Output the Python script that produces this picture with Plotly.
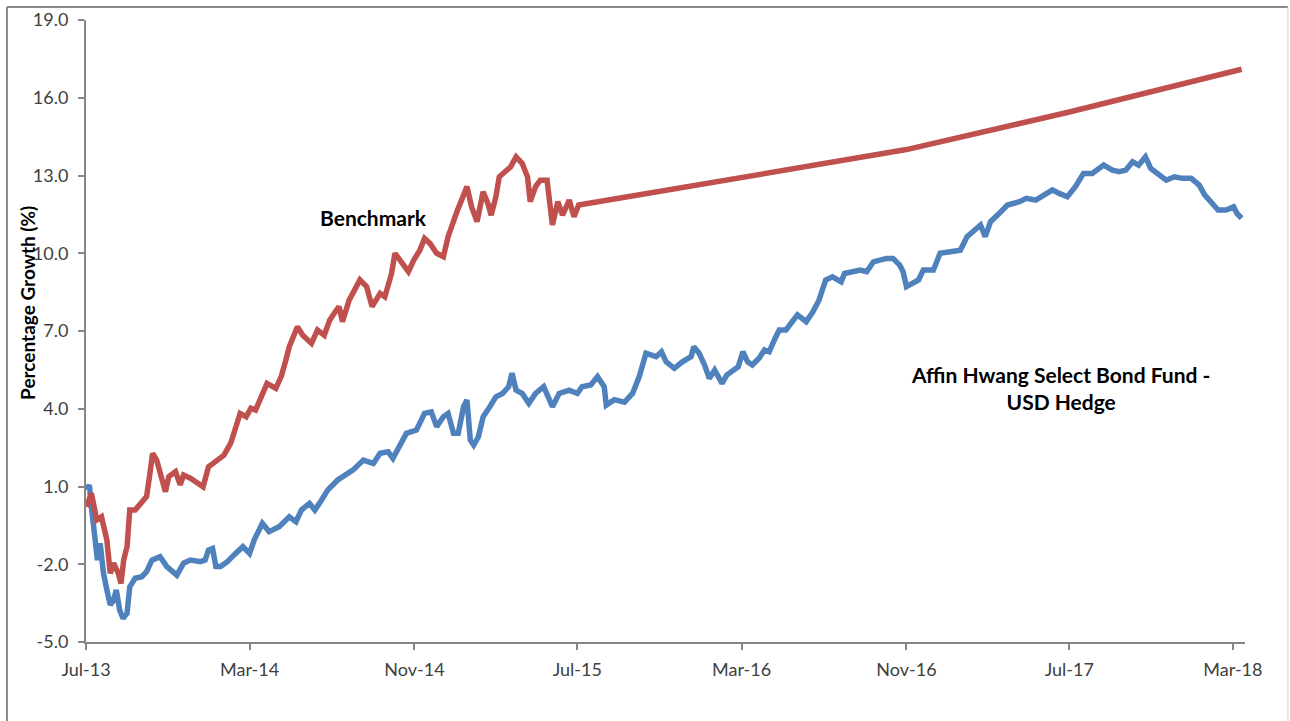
import plotly.graph_objects as go

# ---------------- data ----------------
bench_dates = [
    "2013-07-02", "2013-07-09", "2013-07-17", "2013-07-24", "2013-08-01", "2013-08-06",
    "2013-08-11", "2013-08-18", "2013-08-22", "2013-08-26", "2013-08-31", "2013-09-04",
    "2013-09-12", "2013-09-20", "2013-09-29", "2013-10-04", "2013-10-08", "2013-10-14",
    "2013-10-22", "2013-10-27", "2013-11-01", "2013-11-11", "2013-11-18", "2013-11-23",
    "2013-12-03", "2013-12-13", "2013-12-22", "2013-12-30", "2014-01-12", "2014-01-22",
    "2014-02-01", "2014-02-08", "2014-02-15", "2014-02-24", "2014-03-03", "2014-03-10",
    "2014-03-20", "2014-03-27", "2014-04-09", "2014-04-17", "2014-04-24", "2014-04-29",
    "2014-05-11", "2014-05-19", "2014-06-01", "2014-06-10", "2014-06-20", "2014-06-28",
    "2014-07-08", "2014-07-12", "2014-07-17", "2014-07-27", "2014-08-12", "2014-08-22",
    "2014-08-30", "2014-09-11", "2014-09-18", "2014-09-28", "2014-10-03", "2014-10-13",
    "2014-10-23", "2014-10-31", "2014-11-09", "2014-11-16", "2014-11-24", "2014-12-04",
    "2014-12-14", "2014-12-21", "2014-12-29", "2015-01-03", "2015-01-10", "2015-01-18",
    "2015-01-25", "2015-02-02", "2015-02-11", "2015-02-18", "2015-02-23", "2015-03-02",
    "2015-03-07", "2015-03-17", "2015-03-24", "2015-04-01", "2015-04-10", "2015-04-18",
    "2015-04-22", "2015-04-30", "2015-05-07", "2015-05-17", "2015-05-22", "2015-05-25",
    "2015-06-02", "2015-06-09", "2015-06-19", "2015-06-26", "2015-07-03",
    "2016-03-01", "2016-11-01", "2017-07-01", "2017-12-01", "2018-03-14",
]
bench_values = [
    0.22, 0.74, -0.29, -0.17, -1.06, -2.35,
    -1.96, -2.35, -2.74, -1.84, -1.32, 0.09,
    0.09, 0.35, 0.61, 1.51, 2.28, 2.02,
    1.25, 0.80, 1.38, 1.57, 1.06, 1.44,
    1.32, 1.12, 0.99, 1.76, 2.02, 2.21,
    2.67, 3.31, 3.82, 3.69, 4.02, 3.95,
    4.59, 4.98, 4.79, 5.24, 5.88, 6.39,
    7.16, 6.84, 6.52, 7.04, 6.84, 7.42,
    7.81, 7.94, 7.36, 8.19, 8.97, 8.71,
    7.94, 8.45, 8.32, 9.22, 10.00, 9.61,
    9.29, 9.74, 10.12, 10.57, 10.38, 10.00,
    9.87, 10.64, 11.28, 11.60, 12.05, 12.57,
    11.79, 11.22, 12.37, 11.93, 11.47, 12.18,
    12.95, 13.21, 13.34, 13.72, 13.47, 12.95,
    11.99, 12.57, 12.82, 12.82, 11.79, 11.09,
    11.99, 11.47, 12.05, 11.41, 11.86,
    12.95, 14.00, 15.45, 16.42, 17.10,
]

fund_dates = [
    "2013-07-02", "2013-07-06", "2013-07-09", "2013-07-14", "2013-07-18", "2013-07-22",
    "2013-07-27", "2013-08-01", "2013-08-06", "2013-08-11", "2013-08-15", "2013-08-20",
    "2013-08-25", "2013-08-31", "2013-09-04", "2013-09-12", "2013-09-22", "2013-09-29",
    "2013-10-07", "2013-10-19", "2013-10-29", "2013-11-13", "2013-11-23", "2013-12-03",
    "2013-12-18", "2013-12-25", "2013-12-30", "2014-01-05", "2014-01-10", "2014-01-17",
    "2014-01-27", "2014-02-06", "2014-02-19", "2014-03-01", "2014-03-08", "2014-03-20",
    "2014-03-30", "2014-04-14", "2014-04-29", "2014-05-09", "2014-05-17", "2014-05-29",
    "2014-06-06", "2014-06-16", "2014-06-25", "2014-07-10", "2014-08-02", "2014-08-17",
    "2014-09-01", "2014-09-11", "2014-09-23", "2014-09-30", "2014-10-10", "2014-10-20",
    "2014-11-04", "2014-11-16", "2014-11-26", "2014-12-04", "2014-12-14", "2014-12-21",
    "2014-12-29", "2015-01-05", "2015-01-13", "2015-01-18", "2015-01-23", "2015-01-28",
    "2015-02-04", "2015-02-11", "2015-02-21", "2015-03-02", "2015-03-12", "2015-03-21",
    "2015-03-26", "2015-04-01", "2015-04-10", "2015-04-20", "2015-04-30", "2015-05-12",
    "2015-05-25", "2015-06-04", "2015-06-19", "2015-07-01", "2015-07-08", "2015-07-21",
    "2015-07-31", "2015-08-10", "2015-08-13", "2015-08-25", "2015-09-09", "2015-09-21",
    "2015-10-01", "2015-10-11", "2015-10-26", "2015-11-03", "2015-11-10", "2015-11-22",
    "2015-12-04", "2015-12-17", "2015-12-21", "2015-12-29", "2016-01-06", "2016-01-13",
    "2016-01-21", "2016-02-01", "2016-02-08", "2016-02-18", "2016-02-25", "2016-03-03",
    "2016-03-10", "2016-03-17", "2016-03-27", "2016-04-04", "2016-04-11", "2016-04-21",
    "2016-04-26", "2016-05-06", "2016-05-16", "2016-05-23", "2016-06-05", "2016-06-15",
    "2016-06-24", "2016-07-04", "2016-07-14", "2016-07-27", "2016-08-01", "2016-08-24",
    "2016-09-03", "2016-09-13", "2016-10-02", "2016-10-12", "2016-10-22", "2016-10-27",
    "2016-11-01", "2016-11-09", "2016-11-19", "2016-11-26", "2016-12-11", "2016-12-21",
    "2017-01-10", "2017-01-20", "2017-01-30", "2017-02-09", "2017-02-19", "2017-02-26",
    "2017-03-06", "2017-03-19", "2017-03-31", "2017-04-18", "2017-04-28", "2017-05-12",
    "2017-05-27", "2017-06-06", "2017-06-16", "2017-06-28", "2017-07-10", "2017-07-22",
    "2017-08-04", "2017-08-21", "2017-09-03", "2017-09-13", "2017-09-23", "2017-10-03",
    "2017-10-12", "2017-10-22", "2017-10-30", "2017-11-12", "2017-11-22", "2017-12-04",
    "2017-12-16", "2017-12-29", "2018-01-10", "2018-01-18", "2018-01-30", "2018-02-07",
    "2018-02-19", "2018-03-02", "2018-03-07", "2018-03-14",
]
fund_values = [
    0.86, 1.06, 0.22, -1.06, -1.84, -1.19,
    -2.35, -2.99, -3.57, -3.38, -2.99, -3.77,
    -4.09, -3.89, -2.87, -2.54, -2.48, -2.29,
    -1.84, -1.71, -2.09, -2.42, -1.96, -1.84,
    -1.90, -1.84, -1.45, -1.39, -2.09, -2.09,
    -1.90, -1.64, -1.32, -1.58, -1.06, -0.42,
    -0.74, -0.55, -0.17, -0.36, 0.09, 0.35,
    0.09, 0.48, 0.86, 1.25, 1.64, 2.02,
    1.89, 2.28, 2.34, 2.09, 2.53, 3.05,
    3.18, 3.82, 3.88, 3.31, 3.69, 3.82,
    3.05, 3.05, 4.08, 4.34, 2.79, 2.60,
    2.92, 3.69, 4.08, 4.46, 4.59, 4.85,
    5.37, 4.72, 4.59, 4.21, 4.59, 4.85,
    4.08, 4.59, 4.72, 4.59, 4.85, 4.92,
    5.24, 4.85, 4.14, 4.35, 4.25, 4.59,
    5.24, 6.14, 6.01, 6.20, 5.81, 5.56,
    5.81, 6.01, 6.39, 6.14, 5.69, 5.17,
    5.49, 4.98, 5.30, 5.49, 5.62, 6.20,
    5.81, 5.69, 5.95, 6.27, 6.20, 6.78,
    7.04, 7.04, 7.36, 7.62, 7.36, 7.74,
    8.19, 8.97, 9.09, 8.90, 9.22, 9.35,
    9.29, 9.67, 9.80, 9.80, 9.54, 9.29,
    8.71, 8.84, 8.97, 9.35, 9.35, 10.00,
    10.06, 10.12, 10.64, 10.90, 11.09, 10.64,
    11.22, 11.54, 11.86, 11.99, 12.12, 12.05,
    12.31, 12.44, 12.31, 12.18, 12.57, 13.08,
    13.08, 13.40, 13.21, 13.15, 13.21, 13.53,
    13.40, 13.72, 13.27, 13.02, 12.82, 12.95,
    12.89, 12.89, 12.63, 12.25, 11.86, 11.67,
    11.67, 11.79, 11.54, 11.35,
]

y_ticks = [-5.0, -2.0, 1.0, 4.0, 7.0, 10.0, 13.0, 16.0, 19.0]

# ---------------- figure ----------------
FONT = "Lato, 'Open Sans', sans-serif"
AXIS_GREY = "#868686"
TICK_FONT = dict(family=FONT, size=18, color="#404040")

fig = go.Figure()
fig.add_trace(go.Scatter(
    x=fund_dates, y=fund_values, mode="lines", name="Affin Hwang Select Bond Fund - USD Hedge",
    line=dict(color="#4F81BD", width=5.5), hoverinfo="x+y",
))
fig.add_trace(go.Scatter(
    x=bench_dates, y=bench_values, mode="lines", name="Benchmark",
    line=dict(color="#C0504D", width=5.5), hoverinfo="x+y",
))

fig.update_layout(
    width=1290, height=721,
    margin=dict(l=86, r=45, t=20, b=79),
    paper_bgcolor="white", plot_bgcolor="white",
    showlegend=False,
    font=dict(family=FONT, size=18, color="#404040"),
    xaxis=dict(
        type="date",
        range=["2013-07-01", "2018-03-19"],
        tick0="2013-07-01", dtick="M8", tickformat="%b-%y",
        showgrid=False, zeroline=False, automargin=False,
        showline=True, linecolor=AXIS_GREY, linewidth=2,
        ticks="outside", ticklen=6, tickwidth=2, tickcolor=AXIS_GREY,
        tickfont=TICK_FONT, ticklabelstandoff=4,
    ),
    yaxis=dict(
        range=[-5, 19],
        tickvals=y_ticks, ticktext=[f"{v:.1f}" for v in y_ticks],
        showgrid=False, zeroline=False, automargin=False,
        showline=True, linecolor=AXIS_GREY, linewidth=2,
        ticks="outside", ticklen=6, tickwidth=2, tickcolor=AXIS_GREY,
        tickfont=TICK_FONT, ticklabelstandoff=6,
    ),
    annotations=[
        dict(text="<b>Percentage Growth (%)</b>", xref="paper", yref="paper",
             x=-0.051, y=0.545, textangle=-90, showarrow=False,
             font=dict(family=FONT, size=19, color="#000000"),
             xanchor="center", yanchor="middle"),
        dict(text="<b>Benchmark</b>", xref="paper", yref="paper",
             x=0.2480, y=0.6817, showarrow=False,
             font=dict(family=FONT, size=21, color="#000000"),
             xanchor="center", yanchor="middle"),
        dict(text="<b>Affin Hwang Select Bond Fund -<br>USD Hedge</b>", xref="paper", yref="paper",
             x=0.8412, y=0.408, showarrow=False, align="center",
             font=dict(family=FONT, size=21, color="#000000"),
             xanchor="center", yanchor="middle"),
    ],
    shapes=[
        # outer chart frame (top, left, right)
        dict(type="line", xref="paper", yref="paper", x0=-0.0682, x1=1.0371, y0=1.0209, y1=1.0209,
             line=dict(color="#8a8a8a", width=2)),
        dict(type="line", xref="paper", yref="paper", x0=-0.0682, x1=-0.0682, y0=1.0209, y1=-0.14,
             line=dict(color="#8a8a8a", width=2)),
        dict(type="line", xref="paper", yref="paper", x0=1.0371, x1=1.0371, y0=1.0209, y1=-0.14,
             line=dict(color="#d0d0d0", width=1)),
    ],
)

fig.write_html("out.html")
